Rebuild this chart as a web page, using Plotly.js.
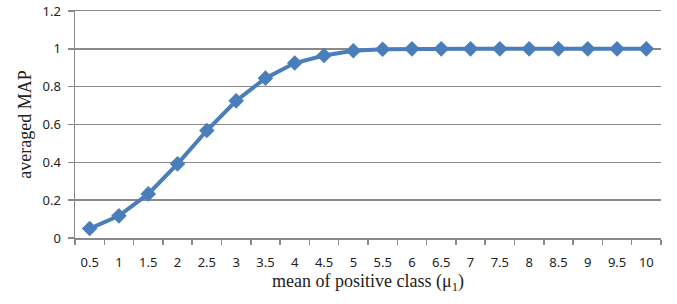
<!DOCTYPE html>
<html><head><meta charset="utf-8">
<script src="https://cdn.plot.ly/plotly-3.0.1.min.js"></script>
<style>html,body{margin:0;padding:0;background:#fff}</style>
</head><body>
<div id="chart" style="width:677px;height:304px"></div>
<script>
const categories = ["0.5","1","1.5","2","2.5","3","3.5","4","4.5","5","5.5","6","6.5","7","7.5","8","8.5","9","9.5","10"];
const mapValues = [0.05,0.117,0.233,0.392,0.568,0.725,0.845,0.925,0.965,0.99,0.998,1,1,1,1,1,1,1,1,1];
const yTicks = [0,0.2,0.4,0.6,0.8,1,1.2];
const yTickLabels = ["0","0.2","0.4","0.6","0.8","1","1.2"];

const trace = {
  x: categories, y: mapValues, type: "scatter", mode: "lines+markers",
  line: {color: "#4A7EBB", width: 4},
  marker: {symbol: "diamond", size: 12, color: "#4A7EBB"},
  cliponaxis: false,
  hoverinfo: "none"
};
const layout = {
  width: 677, height: 304,
  margin: {l: 75, r: 16, t: 11, b: 66},
  paper_bgcolor: "#fff", plot_bgcolor: "#fff",
  showlegend: false,
  font: {family: "Noto Sans, sans-serif", size: 13, color: "#222"},
  xaxis: {
    type: "category", range: [-0.5, categories.length - 0.5], autorange: false,
    tickson: "boundaries", ticks: "outside", ticklen: 5, tickcolor: "#8a8a8a", tickwidth: 1.5,
    tickangle: 0, ticklabelstandoff: 12, mirror: true,
    showline: true, linecolor: "#8a8a8a", linewidth: 1.5, showgrid: false, zeroline: false,
    tickfont: {family: "Noto Sans, sans-serif", size: 13, color: "#222"},
    title: {text: "mean of positive class (μ<sub>1</sub>)", font: {family: "Liberation Serif, serif", size: 18, color: "#222"}, standoff: 0}
  },
  yaxis: {
    range: [0, 1.2], autorange: false, tickvals: yTicks, ticktext: yTickLabels,
    ticks: "outside", ticklen: 6, tickcolor: "#8a8a8a", tickwidth: 1.5, ticklabelstandoff: 4,
    showline: true, linecolor: "#8a8a8a", linewidth: 1.5,
    showgrid: true, gridcolor: "#8a8a8a", gridwidth: 1.5, zeroline: false,
    tickfont: {family: "Noto Sans, sans-serif", size: 13, color: "#222"},
    title: {text: "averaged MAP", font: {family: "Liberation Serif, serif", size: 18, color: "#222"}, standoff: 6}
  }
};
Plotly.newPlot("chart", [trace], layout, {staticPlot: true, displayModeBar: false});
</script>
</body></html>
